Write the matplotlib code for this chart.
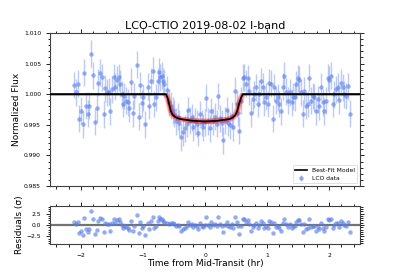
import numpy as np
import matplotlib
matplotlib.use("Agg")
import matplotlib.pyplot as plt
from matplotlib.ticker import MultipleLocator

title = "LCO-CTIO 2019-08-02 I-band"

time_hr = [-2.108, -2.081, -2.054, -2.027, -2.000, -1.973, -1.946, -1.919, -1.892, -1.866,
           -1.839, -1.801, -1.774, -1.747, -1.720, -1.694, -1.667, -1.634, -1.607, -1.581,
           -1.554, -1.527, -1.500, -1.473, -1.446, -1.419, -1.392, -1.366, -1.339, -1.323,
           -1.301, -1.274, -1.247, -1.220, -1.194, -1.167, -1.140, -1.097, -1.070, -1.043,
           -1.021, -0.995, -0.962, -0.925, -0.898, -0.871, -0.844, -0.817, -0.790, -0.763,
           -0.737, -0.720, -0.699, -0.683, -0.656, -0.618, -0.575, -0.554, -0.522, -0.495,
           -0.468, -0.441, -0.414, -0.387, -0.360, -0.323, -0.296, -0.269, -0.242, -0.215,
           -0.188, -0.161, -0.134, -0.107, -0.081, -0.054, -0.027, 0.000, 0.021, 0.048,
           0.075, 0.102, 0.129, 0.156, 0.194, 0.215, 0.242, 0.269, 0.296, 0.323,
           0.349, 0.376, 0.403, 0.430, 0.457, 0.484, 0.511, 0.527, 0.554, 0.581,
           0.608, 0.634, 0.661, 0.688, 0.715, 0.742, 0.769, 0.796, 0.823, 0.849,
           0.876, 0.903, 0.930, 0.957, 0.984, 1.011, 1.038, 1.065, 1.091, 1.118,
           1.145, 1.172, 1.199, 1.226, 1.253, 1.280, 1.306, 1.344, 1.371, 1.398,
           1.425, 1.452, 1.468, 1.495, 1.522, 1.548, 1.575, 1.602, 1.629, 1.656,
           1.683, 1.710, 1.737, 1.763, 1.790, 1.817, 1.844, 1.871, 1.898, 1.925,
           1.952, 1.978, 2.005, 2.032, 2.059, 2.086, 2.113, 2.140, 2.167, 2.194,
           2.220, 2.247, 2.274, 2.301, 2.339]

flux = [1.0015, 1.0003, 1.0017, 0.9960, 0.9973, 0.9951, 1.0035, 0.9981, 0.9968, 0.9981,
        1.0066, 1.0031, 0.9955, 0.9977, 1.0019, 1.0035, 1.0028, 0.9967, 1.0010, 1.0003,
        1.0004, 0.9972, 1.0008, 1.0028, 1.0012, 1.0024, 1.0028, 1.0017, 1.0000, 0.9984,
        0.9997, 0.9989, 0.9987, 0.9977, 1.0020, 0.9969, 0.9997, 1.0048, 0.9963, 1.0015,
        0.9985, 0.9995, 0.9951, 1.0012, 0.9981, 1.0021, 1.0038, 0.9984, 0.9995, 1.0021,
        1.0037, 1.0028, 1.0030, 1.0021, 1.0017, 1.0007, 0.9987, 0.9981, 0.9974, 0.9968,
        0.9956, 0.9963, 0.9953, 0.9930, 0.9938, 0.9944, 0.9952, 0.9974, 0.9957, 0.9962,
        0.9946, 0.9956, 0.9952, 0.9937, 0.9967, 0.9953, 0.9946, 0.9954, 0.9994, 0.9956,
        0.9944, 0.9972, 0.9956, 0.9963, 0.9952, 0.9997, 0.9961, 0.9953, 0.9925, 0.9957,
        0.9974, 0.9953, 0.9949, 0.9965, 0.9946, 1.0006, 0.9984, 0.9970, 0.9940, 0.9989,
        1.0027, 1.0028, 1.0017, 1.0026, 1.0005, 0.9969, 0.9992, 1.0000, 1.0011, 0.9984,
        1.0001, 1.0021, 1.0012, 0.9987, 0.9996, 0.9984, 1.0019, 1.0017, 0.9960, 1.0011,
        0.9989, 0.9995, 0.9984, 0.9972, 1.0012, 1.0030, 1.0004, 0.9989, 1.0003, 0.9987,
        0.9996, 0.9995, 1.0016, 1.0026, 1.0024, 1.0003, 0.9968, 1.0006, 0.9981, 0.9984,
        1.0027, 0.9989, 0.9997, 0.9995, 0.9972, 0.9992, 0.9980, 1.0012, 0.9987, 0.9972,
        0.9989, 1.0027, 1.0024, 1.0030, 0.9984, 1.0000, 1.0008, 1.0012, 0.9990, 1.0019,
        1.0011, 1.0000, 0.9997, 1.0013, 0.9968]

flux_err = 0.0022

# best-fit model (knots)
model_t = [-2.5, -0.63, -0.60, -0.575, -0.55, -0.52, -0.47, -0.40, -0.20, 0.0,
           0.20, 0.40, 0.45, 0.49, 0.52, 0.55, 0.58, 0.61, 2.5]
model_f = [1.0, 1.0, 0.9993, 0.9982, 0.9972, 0.9966, 0.9962, 0.99595, 0.99565, 0.99555,
           0.99565, 0.99595, 0.9962, 0.9966, 0.9973, 0.9984, 0.9994, 1.0, 1.0]

t = np.array(time_hr)
f = np.array(flux)
mt = np.array(model_t)
mf = np.array(model_f)
resid = (f - np.interp(t, mt, mf)) / flux_err

W, H = 399, 279
fig = plt.figure(figsize=(W / 100, H / 100), dpi=100)
ax = fig.add_axes([50 / W, 1 - 186 / H, 310 / W, 153 / H])
axr = fig.add_axes([50 / W, 1 - 244 / H, 310 / W, 38 / H])

pt_color = "#5b7fe6"
ax.errorbar(t, f, yerr=flux_err, fmt="o", ms=3.2, color=pt_color, alpha=0.6,
            ecolor="#8fa8f0", elinewidth=1.0, capsize=0, markeredgewidth=0,
            label="LCO data", zorder=2)
for dt in [-0.035, -0.02, -0.01, 0.0, 0.01, 0.02, 0.035]:
    for df in [-0.00025, 0.0, 0.00025]:
        ax.plot(mt + dt, mf + df * (1 - mf) / 0.0044, color="red", lw=1.6, alpha=0.08, zorder=3)
ax.plot(mt, mf, color="black", lw=1.2, label="Best-Fit Model", zorder=4)

ax.set_xlim(-2.5, 2.5)
ax.set_ylim(0.985, 1.010)
ax.set_title(title, fontsize=8, pad=3)
ax.set_ylabel("Normalized Flux", fontsize=6.5, labelpad=2)
ax.yaxis.set_major_locator(MultipleLocator(0.005))
ax.yaxis.set_minor_locator(MultipleLocator(0.001))
ax.xaxis.set_major_locator(MultipleLocator(1))
ax.xaxis.set_minor_locator(MultipleLocator(0.2))
ax.yaxis.set_major_formatter(matplotlib.ticker.FormatStrFormatter("%.3f"))
ax.tick_params(which="both", direction="out", top=True, right=True, labelsize=4.3,
               labelbottom=False, width=0.6)
ax.tick_params(which="major", length=3)
ax.tick_params(which="minor", length=1.8)
leg = ax.legend(loc="lower right", fontsize=4.3, frameon=True, borderpad=0.4,
                handlelength=2.0, labelspacing=0.4)
leg.get_frame().set_linewidth(0.5)

axr.plot(t, resid, "o", ms=3.2, color=pt_color, alpha=0.65, markeredgewidth=0)
axr.axhline(0, color="0.45", lw=1.6, zorder=0)
axr.set_xlim(-2.5, 2.5)
axr.set_ylim(-4.2, 4.2)
axr.yaxis.set_major_locator(MultipleLocator(2.5))
axr.yaxis.set_minor_locator(MultipleLocator(0.5))
axr.xaxis.set_major_locator(MultipleLocator(1))
axr.xaxis.set_minor_locator(MultipleLocator(0.2))
axr.tick_params(which="both", direction="out", top=True, right=True, labelsize=4.3, width=0.6)
axr.tick_params(which="major", length=3)
axr.tick_params(which="minor", length=1.8)
axr.set_ylabel("Residuals (σ)", fontsize=6.5, labelpad=2)
axr.set_xlabel("Time from Mid-Transit (hr)", fontsize=6.5, labelpad=1)

for a in (ax, axr):
    for s in a.spines.values():
        s.set_linewidth(0.8)
        s.set_color("0.25")

fig.savefig("out.png", dpi=100)
